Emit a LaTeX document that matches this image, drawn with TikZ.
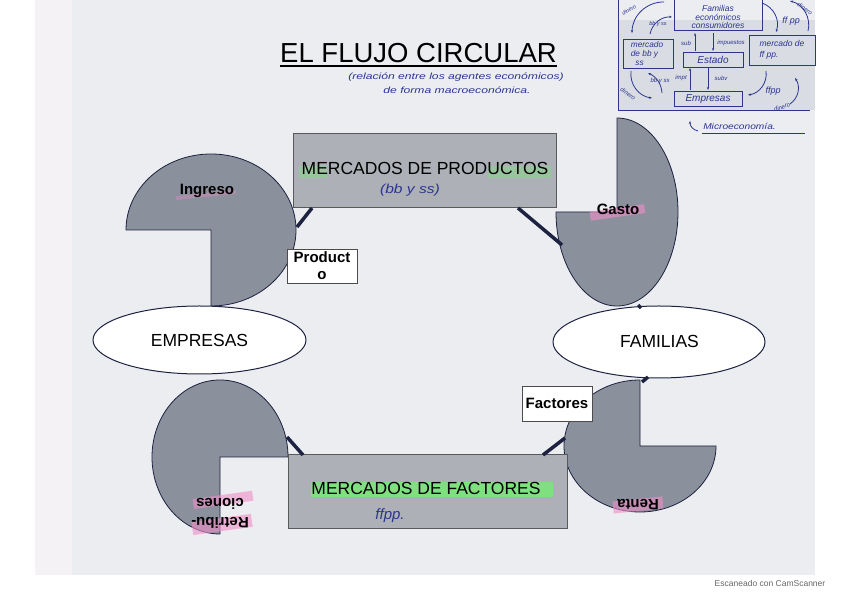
\documentclass[tikz,border=0pt]{standalone}
\usepackage{fontspec}
\setmainfont{Liberation Sans}
\usetikzlibrary{arrows.meta,calc,shapes.geometric}
\definecolor{pagebg}{HTML}{ECEDF0}
\definecolor{stripbg}{HTML}{F4F2F5}
\definecolor{scanshade}{HTML}{D9DCE2}
\definecolor{boxgray}{HTML}{ADB0B6}
\definecolor{piegray}{HTML}{8A909C}
\definecolor{navy}{HTML}{1C2240}
\definecolor{ink}{HTML}{2B3590}
\definecolor{hlgreen}{HTML}{7FE07F}
\definecolor{hlpink}{HTML}{F08FC8}
\tikzset{
  market/.style={draw=black!65, line width=1pt, fill=boxgray},
  pie/.style={draw=navy, line width=0.8pt, fill=piegray},
  agent/.style={draw=navy, line width=1pt, fill=white, ellipse, inner sep=0pt},
  flowlabel/.style={draw=black!70, line width=0.8pt, fill=white, inner sep=0pt, align=center,
    font=\fontsize{15}{17}\selectfont\bfseries},
  link/.style={draw=navy, line width=3.5pt},
  bigtext/.style={font=\fontsize{17.5}{20}\selectfont, inner sep=0pt},
  pietext/.style={font=\fontsize{15}{19}\selectfont\bfseries, inner sep=0pt, align=center},
  hand/.style={text=ink, font=\itshape, inner sep=0pt},
  handbox/.style={draw=ink, line width=0.9pt},
  handarrow/.style={draw=ink, line width=0.8pt, -{Stealth[length=3pt]}},
  hlp/.style={fill=hlpink, opacity=0.6},
}
\begin{document}
\begin{tikzpicture}[x=1pt,y=1pt]
\useasboundingbox (0,0) rectangle (848,599);
\fill[white] (0,0) rectangle (848,599);
% scanned sheet
\fill[stripbg] (35,24) rectangle (815,599);
\fill[pagebg] (72,24) rectangle (815,599);
\fill[scanshade] (619,489) rectangle (815,579);

% title
\node[anchor=base, inner sep=0pt, font=\fontsize{27.5}{30}\selectfont] (title) at (418.5,536) {EL FLUJO CIRCULAR};
\draw[line width=1.5pt] (title.south west |- 0,533) -- (title.south east |- 0,533);
\node[hand, font=\itshape\fontsize{9}{10}\selectfont, xscale=1.35] (sub1) at (456,522) {(relación entre los agentes económicos)};
\node[hand, font=\itshape\fontsize{9}{10}\selectfont, xscale=1.35] (sub2) at (457,509) {de forma macroeconómica.};

% pies
\draw[pie] (211,369) -- ++(0,-76) arc[start angle=-90, end angle=180, x radius=85, y radius=76] -- cycle;
\draw[pie] (617,387) -- ++(-61,0) arc[start angle=180, end angle=450, x radius=61, y radius=94] -- cycle;
\draw[pie] (220,142) -- ++(68,0) arc[start angle=0, end angle=270, x radius=68, y radius=77] -- cycle;
\draw[pie] (640,153) -- ++(0,66) arc[start angle=90, end angle=360, x radius=76, y radius=66] -- cycle;

% markets
\node[market, minimum width=263pt, minimum height=74pt, inner sep=0pt] (prod) at (424.5,428) {};
\node[market, minimum width=279pt, minimum height=74pt, inner sep=0pt] (fact) at (427.5,107) {};
\fill[hlgreen, opacity=0.45] (299,421) rectangle (327,433);
\fill[hlgreen, opacity=0.45] (488,421) rectangle (551,433);
\node[bigtext, anchor=base] (prodt) at (425,424) {MERCADOS DE PRODUCTOS};
\node[hand, font=\itshape\fontsize{13}{14}\selectfont, xscale=1.2] (bbss) at (410,409) {(bb y ss)};
\fill[hlgreen] (311,102) rectangle (553,117);
\node[bigtext, anchor=base] (factt) at (426,104) {MERCADOS DE FACTORES};
\node[hand, font=\itshape\fontsize{15}{16}\selectfont] (ffpp) at (390,83) {ffpp.};

% agents
\node[agent, minimum width=213pt, minimum height=68pt] (emp) at (199.5,259) {};
\node[bigtext, anchor=base] at (199.5,252) {EMPRESAS};
\node[agent, minimum width=212pt, minimum height=72pt] (fam) at (659,257) {};
\node[bigtext, anchor=base] at (659.5,251) {FAMILIAS};

% connectors
\coordinate (pa) at (312,391); \coordinate (ia) at (297,372);
\coordinate (pb) at (518,391); \coordinate (ga) at (562,354);
\coordinate (gb) at (638,294); \coordinate (fa) at (641,291);
\coordinate (fb) at (648,222); \coordinate (ra) at (642,217);
\coordinate (rb) at (565,161); \coordinate (fc) at (543,144);
\coordinate (fd) at (303,144); \coordinate (rc) at (287,162);
\draw[link] (pa) -- (ia);
\draw[link] (pb) -- (ga);
\draw[link] (gb) -- (fa);
\draw[link] (fb) -- (ra);
\draw[link] (rb) -- (fc);
\draw[link] (fd) -- (rc);

% pie labels
\fill[hlpink, opacity=0.35, rotate around={6:(206,404)}] (176,402) rectangle (236,406);
\node[pietext, anchor=base] (ingreso) at (207,404) {Ingreso};
\fill[hlp, rotate around={8:(617,386)}] (590,382) rectangle (645,391);
\node[pietext, anchor=base] (gasto) at (618,384) {Gasto};
\fill[hlp, rotate around={6:(638,94)}] (613,88) rectangle (663,100);
\node[pietext, rotate=180] (renta) at (638,94) {Renta};
\fill[hlp, rotate around={8:(222,99)}] (193,94) rectangle (253,104);
\fill[hlp, rotate around={8:(222,75)}] (192,68) rectangle (252,81);
\node[pietext, rotate=180] (retri) at (220,86) {Retribu-\\ciones};

% flow labels
\node[flowlabel, minimum width=70pt, minimum height=34pt] (producto) at (322,333) {Product\\o};
\node[flowlabel, minimum width=70pt, minimum height=35pt] (factores) at (557,195.5) {Factores};

% handwritten mini diagram (top right)
\begin{scope}
\draw[ink, line width=0.9pt] (618,599) -- (618,489) -- (810,489);
\node[handbox, minimum width=88pt, minimum height=32pt, inner sep=0pt] (hfam) at (718,585) {};
\node[hand, align=center, font=\itshape\fontsize{8.5}{8.8}\selectfont] at (718,582) {Familias\\económicos\\consumidores};
\node[handbox, minimum width=50pt, minimum height=29pt, inner sep=0pt] (hmbb) at (648,545.5) {};
\node[hand, align=left, font=\itshape\fontsize{8.3}{8.8}\selectfont] at (647,545.5) {mercado\\de bb y\\ \ \ ss};
\node[handbox, minimum width=60pt, minimum height=15pt, inner sep=0pt] (hest) at (713,539.5) {};
\node[hand, font=\itshape\fontsize{10}{10}\selectfont] at (713,539.5) {Estado};
\node[handbox, minimum width=66pt, minimum height=30pt, inner sep=0pt] (hmff) at (782,549) {};
\node[hand, align=left, font=\itshape\fontsize{8.5}{11}\selectfont] at (782,549) {mercado de\\ff pp.};
\node[handbox, minimum width=68pt, minimum height=15pt, inner sep=0pt] (hemp) at (708,500) {};
\node[hand, font=\itshape\fontsize{10}{10}\selectfont] at (708,500) {Empresas};
% Estado arrows
\coordinate (e1) at (695,548); \coordinate (f1) at (695,566);
\coordinate (f2) at (713,566); \coordinate (e2) at (713,548);
\coordinate (m1) at (690,509); \coordinate (e3) at (690,531);
\coordinate (e4) at (708,531); \coordinate (m2) at (708,509);
\draw[handarrow] (e1) -- (f1);
\draw[handarrow] (f2) -- (e2);
\draw[handarrow] (m1) -- (e3);
\draw[handarrow] (e4) -- (m2);
\node[hand, font=\itshape\fontsize{6}{6}\selectfont] at (686,556) {sub};
\node[hand, font=\itshape\fontsize{6}{6}\selectfont] at (731,556) {impuestos};
\node[hand, font=\itshape\fontsize{6}{6}\selectfont] at (681,521) {impt};
\node[hand, font=\itshape\fontsize{6}{6}\selectfont] at (721,521) {subv};
% curved flows
\coordinate (c1) at (664,597); \coordinate (c2) at (632,566);
\coordinate (c3) at (650,565); \coordinate (c4) at (672,582);
\coordinate (c5) at (762,596); \coordinate (c6) at (776,567);
\coordinate (c7) at (808,568); \coordinate (c8) at (790,598);
\coordinate (c9) at (631,528); \coordinate (c10) at (652,501);
\coordinate (c11) at (662,506); \coordinate (c12) at (648,526);
\coordinate (c13) at (766,528); \coordinate (c14) at (748,504);
\coordinate (c15) at (790,495); \coordinate (c16) at (795,521);
\draw[handarrow] (c1) to[bend right=45] (c2);
\draw[handarrow] (c3) to[bend left=40] (c4);
\draw[handarrow] (c5) to[bend left=45] (c6);
\draw[handarrow] (c7) to[bend right=45] (c8);
\draw[handarrow] (c9) to[bend right=45] (c10);
\draw[handarrow] (c11) to[bend right=30] (c12);
\draw[handarrow] (c13) to[bend left=45] (c14);
\draw[handarrow] (c15) to[bend right=45] (c16);
\node[hand, rotate=30, font=\itshape\fontsize{5.5}{6}\selectfont] at (629,589) {dinero};
\node[hand, font=\itshape\fontsize{5.5}{6}\selectfont] at (658,575) {bb y ss};
\node[hand, font=\itshape\fontsize{9}{9}\selectfont] at (791,578) {ff pp};
\node[hand, rotate=-35, font=\itshape\fontsize{6}{6}\selectfont] at (805,590) {dinero};
\node[hand, rotate=-35, font=\itshape\fontsize{6}{6}\selectfont] at (628,505) {dinero};
\node[hand, font=\itshape\fontsize{6}{6}\selectfont] at (660,518) {bb y ss};
\node[hand, font=\itshape\fontsize{9}{9}\selectfont] at (773,508) {ffpp};
\node[hand, rotate=20, font=\itshape\fontsize{6}{6}\selectfont] at (782,492) {dinero};
% microeconomia
\node[hand, anchor=base west, font=\itshape\fontsize{8.5}{9}\selectfont, xscale=1.2] (micro) at (703,469) {Microeconomía.};
\draw[ink, line width=0.8pt] (702,466) -- (805,466);
\coordinate (ma) at (698,468); \coordinate (mb) at (690,478);
\draw[handarrow] (ma) to[bend left=40] (mb);
\end{scope}

% scanner mark
\node[text=black!60, font=\fontsize{8.5}{9}\selectfont, inner sep=0pt] (cam) at (770,16) {Escaneado con CamScanner};
\end{tikzpicture}
\end{document}
